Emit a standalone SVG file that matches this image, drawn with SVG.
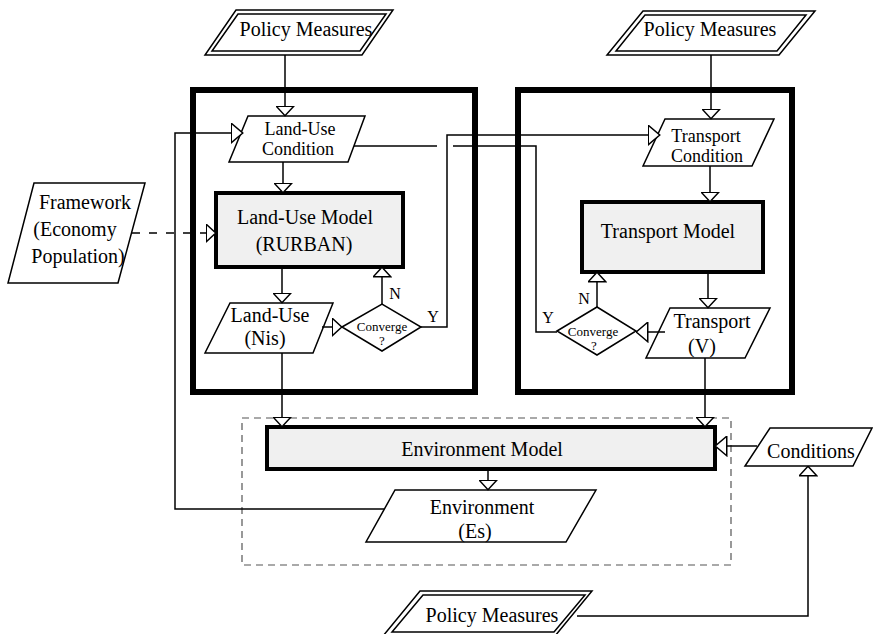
<svg xmlns="http://www.w3.org/2000/svg" width="873" height="634" viewBox="0 0 873 634">
<style>
text{font-family:"Liberation Serif","Times New Roman",serif;font-size:20px;fill:#000;text-anchor:middle}
.sm{font-size:13px}
.lb{font-size:16px}
.t2{font-size:18px}
.shape{fill:#fff;stroke:#000;stroke-width:1.5}
.model{fill:#f0f0f0;stroke:#000;stroke-width:4}
.frame{fill:none;stroke:#000;stroke-width:6}
.dash{fill:none;stroke:#555;stroke-width:1.2;stroke-dasharray:7,5}
.c{fill:none;stroke:#000;stroke-width:1.5}
.cd{fill:none;stroke:#000;stroke-width:1.5;stroke-dasharray:8,9}
</style>
<defs>
<marker id="ah" viewBox="0 0 11 19" refX="10.5" refY="9.5" markerWidth="11" markerHeight="19" markerUnits="userSpaceOnUse" orient="auto">
<path d="M0.75,0.75 L10.25,9.5 L0.75,18.25 Z" fill="#fff" stroke="#000" stroke-width="1.5"/>
</marker>
<marker id="ahL" viewBox="0 0 13 21" refX="12.5" refY="10.5" markerWidth="13" markerHeight="21" markerUnits="userSpaceOnUse" orient="auto">
<path d="M0.75,0.75 L12.25,10.5 L0.75,20.25 Z" fill="#fff" stroke="#000" stroke-width="1.5"/>
</marker>
</defs>
<rect width="873" height="634" fill="#fff"/>

<g id="landuse-submodel"><rect class="frame" x="193" y="90" width="282" height="302"/></g>
<g id="transport-submodel"><rect class="frame" x="518" y="90" width="274" height="302"/></g>
<g id="environment-submodel"><rect class="dash" x="242" y="418" width="489" height="147"/></g>

<g id="policy-landuse">
<polygon class="shape" points="236,10 393,10 362,55 205,55"/>
<polygon class="shape" points="238,14 386,14 360,51 212,51"/>
<text x="306" y="36">Policy Measures</text>
</g>
<g id="policy-transport">
<polygon class="shape" points="643,11 815,11 779,55 607,55"/>
<polygon class="shape" points="645,15 806,15 777,51 616,51"/>
<text x="710" y="36">Policy Measures</text>
</g>
<g id="policy-env">
<polygon class="shape" points="420,591 592,591 555,636 383,636"/>
<polygon class="shape" points="423,595 585,595 554,632 392,632"/>
<text x="492" y="622">Policy Measures</text>
</g>

<g id="landuse-condition">
<polygon class="shape" points="248,116 365,116 348,162 229,162"/>
<text class="t2" x="300" y="135">Land-Use</text>
<text class="t2" x="298" y="155">Condition</text>
</g>
<g id="framework">
<polygon class="shape" points="34,183 145,183 118,283 8,283"/>
<text x="85" y="209">Framework</text>
<text x="75" y="236">(Economy</text>
<text x="78" y="263">Population)</text>
</g>
<g id="landuse-model">
<rect class="model" x="216" y="193" width="187" height="74"/>
<text x="305" y="224">Land-Use Model</text>
<text x="304" y="251">(RURBAN)</text>
</g>
<g id="landuse-nis">
<polygon class="shape" points="230,303 333,303 313,353 205,353"/>
<text x="270" y="322">Land-Use</text>
<text x="265" y="345">(Nis)</text>
</g>
<g id="landuse-converge">
<polygon class="shape" points="342,327 382,304 421,327 382,351"/>
<text class="sm" x="382" y="331">Converge</text>
<text class="sm" x="382" y="345">?</text>
</g>

<g id="transport-condition">
<polygon class="shape" points="665,119 774,119 752,166 643,166"/>
<text class="t2" x="706" y="142">Transport</text>
<text class="t2" x="707" y="162">Condition</text>
</g>
<g id="transport-model">
<rect class="model" x="582" y="202" width="181" height="70"/>
<text x="668" y="238">Transport Model</text>
</g>
<g id="transport-v">
<polygon class="shape" points="670,308 770,308 745,358 646,358"/>
<text x="712" y="328">Transport</text>
<text x="702" y="353">(V)</text>
</g>
<g id="transport-converge">
<polygon class="shape" points="557,331 597,307 636,331 597,355"/>
<text class="sm" x="593" y="336">Converge</text>
<text class="sm" x="594" y="350">?</text>
</g>

<g id="environment-model">
<rect class="model" x="267" y="427" width="448" height="42"/>
<text x="482" y="456">Environment Model</text>
</g>
<g id="environment-es">
<polygon class="shape" points="395,490 596,490 566,542 366,542"/>
<text x="482" y="514">Environment</text>
<text x="475" y="538">(Es)</text>
</g>
<g id="conditions">
<polygon class="shape" points="770,428 872,428 853,466 745,466"/>
<text x="811" y="458">Conditions</text>
</g>

<g id="connectors">
<path class="c" d="M285,55 V116" marker-end="url(#ah)"/>
<path class="c" d="M283,162 V193" marker-end="url(#ah)"/>
<path class="c" d="M282,267 V303" marker-end="url(#ah)"/>
<path class="c" d="M322,327 H342" marker-end="url(#ah)"/>
<path class="c" d="M382,304 V267" marker-end="url(#ah)"/>
<path class="c" d="M421,327 H447 V135 H660" marker-end="url(#ahL)"/>
<path class="cd" d="M132,233 H216" marker-end="url(#ah)"/>
<path class="c" d="M354,146 H437"/>
<path class="c" d="M453,146 H536 V332 H557"/>
<path class="c" d="M711,55 V119" marker-end="url(#ah)"/>
<path class="c" d="M710,166 V202" marker-end="url(#ah)"/>
<path class="c" d="M708,272 V308" marker-end="url(#ah)"/>
<path class="c" d="M665,332 H636" marker-end="url(#ahL)"/>
<path class="c" d="M597,307 V272" marker-end="url(#ah)"/>
<path class="c" d="M282,353 V427" marker-end="url(#ah)"/>
<path class="c" d="M705,358 V427" marker-end="url(#ah)"/>
<path class="c" d="M757,446 H715" marker-end="url(#ahL)"/>
<path class="c" d="M488,469 V490" marker-end="url(#ah)"/>
<path class="c" d="M384,509 H175 V133 H243" marker-end="url(#ahL)"/>
<path class="c" d="M577,616 H808 V466" marker-end="url(#ah)"/>
</g>
<g id="labels">
<text class="lb" x="395" y="299">N</text>
<text class="lb" x="433" y="322">Y</text>
<text class="lb" x="584" y="304">N</text>
<text class="lb" x="548" y="323">Y</text>
</g>
</svg>
